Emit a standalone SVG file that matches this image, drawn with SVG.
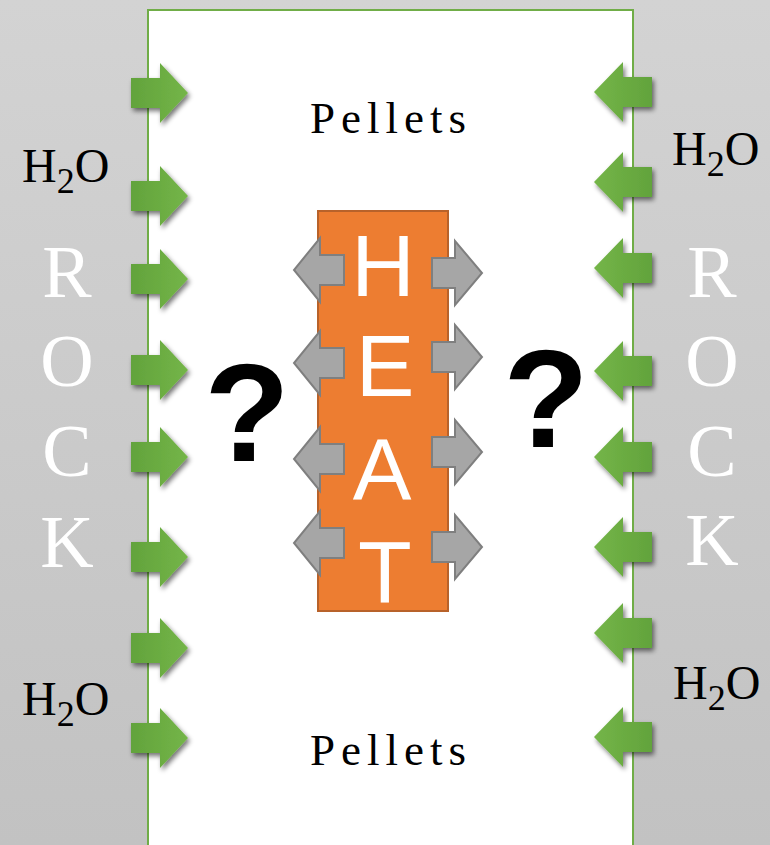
<svg xmlns="http://www.w3.org/2000/svg" width="770" height="845" viewBox="0 0 770 845">
<style>
.serif{font-family:"Liberation Serif","Times New Roman",serif}
.sans{font-family:"Liberation Sans",Arial,sans-serif}
.h2o{font-size:48px;fill:#000}
.rock{font-size:74px;fill:#fff;text-anchor:middle}
.heat{font-size:88px;fill:#fff;text-anchor:middle}
.q{font-size:140px;font-weight:bold;fill:#000;text-anchor:middle}
.pel{font-size:45px;letter-spacing:6px;fill:#000}
.garrow{fill:url(#gg);filter:url(#sh)}
.garrowR{fill:url(#ggR);filter:url(#sh)}
.gray{fill:#a6a6a6;stroke:#7f7f7f;stroke-width:2}
</style>
<defs>
<linearGradient id="bg" x1="0" y1="0" x2="0" y2="1">
<stop offset="0" stop-color="#d3d3d3"/>
<stop offset="1" stop-color="#c2c2c2"/>
</linearGradient>
<linearGradient id="gg" x1="0" y1="0" x2="1" y2="0">
<stop offset="0" stop-color="#62a33c"/>
<stop offset="1" stop-color="#74b548"/>
</linearGradient>
<linearGradient id="ggR" x1="1" y1="0" x2="0" y2="0">
<stop offset="0" stop-color="#62a33c"/>
<stop offset="1" stop-color="#74b548"/>
</linearGradient>
<filter id="sh" x="-30%" y="-30%" width="170%" height="170%">
<feGaussianBlur in="SourceAlpha" stdDeviation="2.5"/>
<feOffset dx="2" dy="3" result="b"/>
<feComponentTransfer><feFuncA type="linear" slope="0.55"/></feComponentTransfer>
<feMerge><feMergeNode/><feMergeNode in="SourceGraphic"/></feMerge>
</filter>
<path id="gR" d="M-29,-15 H0 V-30 L28,0 L0,30 V15 H-29 Z"/>
<path id="gL" d="M29,-15 H0 V-30 L-29,0 L0,30 V15 H29 Z"/>
<path id="yL" d="M24,-15 H0 V-32 L-26,0 L0,32 V15 H24 Z"/>
<path id="yR" d="M-23,-15 H0 V-32 L27,0 L0,32 V15 H-23 Z"/>
</defs>
<rect x="0" y="0" width="770" height="845" fill="url(#bg)"/>
<g id="pellet-column">
<rect x="148" y="10" width="485" height="845" fill="#fff" stroke="#70ad47" stroke-width="2"/>
<text class="serif pel" x="310" y="133">Pellets</text>
<text class="serif pel" x="310" y="765">Pellets</text>
</g>
<g id="rock-left">
<text class="serif rock" x="67" y="297">R</text>
<text class="serif rock" x="67" y="386">O</text>
<text class="serif rock" x="67" y="476">C</text>
<text class="serif rock" x="67" y="567">K</text>
</g>
<g id="rock-right">
<text class="serif rock" x="712" y="297">R</text>
<text class="serif rock" x="712" y="386">O</text>
<text class="serif rock" x="712" y="476">C</text>
<text class="serif rock" x="712" y="565">K</text>
</g>
<g id="h2o-labels">
<text class="serif h2o" x="22" y="182">H<tspan font-size="36" dy="11">2</tspan><tspan dy="-11">O</tspan></text>
<text class="serif h2o" x="22" y="715">H<tspan font-size="36" dy="11">2</tspan><tspan dy="-11">O</tspan></text>
<text class="serif h2o" x="672" y="165">H<tspan font-size="36" dy="11">2</tspan><tspan dy="-11">O</tspan></text>
<text class="serif h2o" x="673" y="699">H<tspan font-size="36" dy="11">2</tspan><tspan dy="-11">O</tspan></text>
</g>
<g id="connectors">
<g id="water-in-left">
<use href="#gR" class="garrow" x="160" y="93"/>
<use href="#gR" class="garrow" x="160" y="196"/>
<use href="#gR" class="garrow" x="160" y="279"/>
<use href="#gR" class="garrow" x="160" y="370"/>
<use href="#gR" class="garrow" x="160" y="457"/>
<use href="#gR" class="garrow" x="160" y="557"/>
<use href="#gR" class="garrow" x="160" y="648"/>
<use href="#gR" class="garrow" x="160" y="738"/>
</g>
<g id="water-in-right">
<use href="#gL" class="garrowR" x="623" y="92"/>
<use href="#gL" class="garrowR" x="623" y="182"/>
<use href="#gL" class="garrowR" x="623" y="268"/>
<use href="#gL" class="garrowR" x="623" y="371"/>
<use href="#gL" class="garrowR" x="623" y="457"/>
<use href="#gL" class="garrowR" x="623" y="547"/>
<use href="#gL" class="garrowR" x="623" y="633"/>
<use href="#gL" class="garrowR" x="623" y="737"/>
</g>
</g>
<g id="heat">
<rect x="318" y="211" width="130" height="400" fill="#ed7d31" stroke="#b8622a" stroke-width="2"/>
<text class="sans heat" x="383" y="296">H</text>
<text class="sans heat" x="385" y="396">E</text>
<text class="sans heat" x="382" y="500">A</text>
<text class="sans heat" x="385" y="602">T</text>
</g>
<g id="heat-arrows">
<use href="#yL" class="gray" x="320" y="270"/>
<use href="#yL" class="gray" x="320" y="363"/>
<use href="#yL" class="gray" x="320" y="459"/>
<use href="#yL" class="gray" x="320" y="543"/>
<use href="#yR" class="gray" x="455" y="273"/>
<use href="#yR" class="gray" x="455" y="357"/>
<use href="#yR" class="gray" x="455" y="452"/>
<use href="#yR" class="gray" x="455" y="547"/>
</g>
<g id="questions">
<text class="sans q" x="247" y="461">?</text>
<text class="sans q" x="546" y="447">?</text>
</g>
</svg>
